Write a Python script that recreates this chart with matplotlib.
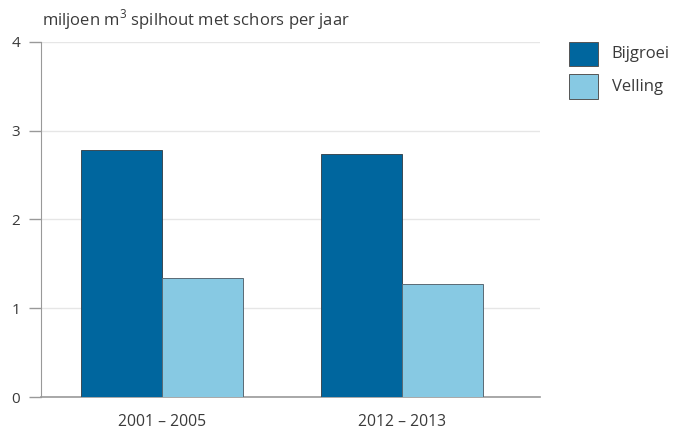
import matplotlib
matplotlib.use('Agg')
import matplotlib.pyplot as plt
import numpy as np
from matplotlib.patches import Rectangle

periods = ['2001 – 2005', '2012 – 2013']
bijgroei = [2.78, 2.74]
velling = [1.34, 1.27]
series_names = ['Bijgroei', 'Velling']
colors = ['#00669e', '#87c9e3']

plt.rcParams['font.family'] = ['Open Sans', 'DejaVu Sans']
plt.rcParams['mathtext.fontset'] = 'custom'
plt.rcParams['mathtext.rm'] = 'Open Sans'

fig = plt.figure(figsize=(6.76, 4.33), dpi=100)
ax = fig.add_axes([0.0607, 0.0831, 0.738, 0.82])

x = np.arange(len(periods))
w = 0.337
ax.bar(x - w / 2, bijgroei, w, color=colors[0], edgecolor='#3a4a55', linewidth=0.7, zorder=3)
ax.bar(x + w / 2, velling, w, color=colors[1], edgecolor='#5a6a75', linewidth=0.7, zorder=3)

ax.set_xlim(-0.504, 1.575)
ax.set_ylim(0, 4)
ax.set_yticks([0, 1, 2, 3, 4])
ax.set_xticks(x)
ax.set_xticklabels(periods, fontsize=11.3, color='#3a3a3a')
ax.tick_params(axis='x', length=0, pad=12)
ax.tick_params(axis='y', length=9, width=1, color='#999999', labelsize=11,
               labelcolor='#3a3a3a', pad=6)
ax.yaxis.grid(True, color='#e6e6e6', linewidth=1, zorder=0)
ax.set_axisbelow(True)
for s in ['top', 'right']:
    ax.spines[s].set_visible(False)
ax.spines['left'].set_color('#999999')
ax.spines['bottom'].set_color('#999999')
ax.spines['bottom'].set_linewidth(1.2)

fig.text(0.062, 0.955, 'miljoen m$^\\mathrm{3}$ spilhout met schors per jaar', fontsize=12,
         color='#3a3a3a', va='center', ha='left')

# legend
ys = [0.875, 0.8]
for name, c, yy in zip(series_names, colors, ys):
    fig.patches.append(Rectangle((0.841, yy - 0.028), 0.044, 0.056, transform=fig.transFigure,
                                 facecolor=c, edgecolor='#555555', linewidth=0.7))
    fig.text(0.905, yy, name, fontsize=12, color='#3a3a3a', va='center', ha='left')

fig.savefig('out.png', dpi=100)
